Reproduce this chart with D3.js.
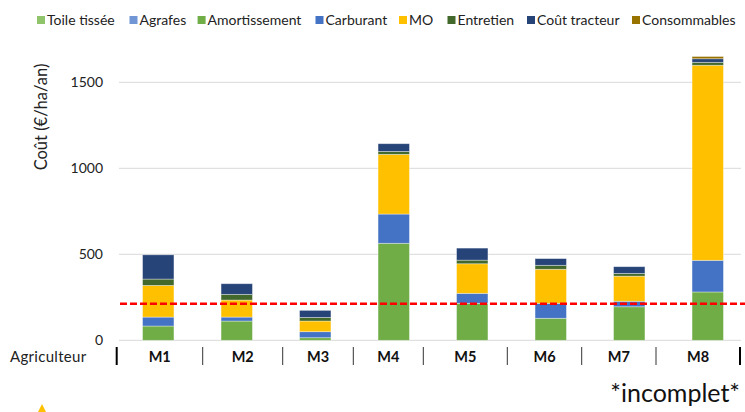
<!DOCTYPE html>
<html><head><meta charset="utf-8">
<script src="https://cdn.jsdelivr.net/npm/d3@7/dist/d3.min.js"></script>
<style>body{margin:0;background:#fff}svg{display:block;font-family:Lato,"Open Sans",sans-serif}</style>
</head><body><svg id="c" width="745" height="412"></svg>
<script>
const categories = ["M1","M2","M3","M4","M5","M6","M7","M8"];
const seriesNames = ["Toile tissée","Agrafes","Amortissement","Carburant","MO","Entretien","Coût tracteur","Consommables"];
const toileTissee   = [0,0,0,0,0,0,0,0];
const agrafes       = [0,0,0,0,0,0,0,0];
const amortissement = [83,112,15,564,215,128,195,281];
const carburant     = [52,23,35,170,58,87,32,184];
const mo            = [184,99,62,347,172,198,146,1134];
const entretien     = [37,33,21,17,21,23,16,17];
const coutTracteur  = [141,62,41,45,70,39,39,21];
const consommables  = [0,0,0,0,0,0,0,13];
const yTicks = [0,500,1000,1500];
const threshold = 212;
const colors = ["#8FC46A","#7196D5","#70AD47","#4472C4","#FFC000","#43682B","#264478","#997300"];

const seriesValues = [toileTissee,agrafes,amortissement,carburant,mo,entretien,coutTracteur,consommables];
const rows = categories.map((c,i)=>{const o={cat:c}; seriesNames.forEach((s,j)=>o[s]=seriesValues[j][i]); return o;});

const svg = d3.select("#c");
const x = d3.scaleBand().domain(categories).range([119,747]).paddingInner(0.6).paddingOuter(0.3);
const y = d3.scaleLinear().domain([0,1650]).range([340.3, 56.5]);
const gridX1 = 119, gridX2 = 741;

// gridlines
svg.append("g").selectAll("line").data(yTicks).join("line")
  .attr("x1",gridX1).attr("x2",gridX2).attr("y1",d=>y(d)).attr("y2",d=>y(d))
  .attr("stroke","#D9D9D9").attr("stroke-width",1);

// y tick labels
svg.append("g").selectAll("text").data(yTicks).join("text")
  .attr("x",103).attr("y",d=>y(d)).attr("dy","0.35em").attr("text-anchor","end")
  .attr("font-size",14).attr("fill","#222").text(d=>d);

// y title
svg.append("text").attr("transform","translate(47,117) rotate(-90)")
  .attr("text-anchor","middle").attr("font-size",16.5).attr("fill","#222").text("Coût (€/ha/an)");

// stacks
const stack = d3.stack().keys(seriesNames)(rows);
svg.append("g").selectAll("g").data(stack).join("g").attr("fill",(d,i)=>colors[i])
  .selectAll("rect").data(d=>d.filter(p=>p[1]-p[0]>0)).join("rect")
  .attr("x",d=>x(d.data.cat)).attr("width",x.bandwidth())
  .attr("y",d=>y(d[1])).attr("height",d=>y(d[0])-y(d[1]))
  .attr("stroke","#ffffff").attr("stroke-opacity",0.45).attr("stroke-width",0.8);

// threshold line
svg.append("line").attr("x1",120).attr("x2",745).attr("y1",y(threshold)).attr("y2",y(threshold))
  .attr("stroke","#FF0000").attr("stroke-width",2.5).attr("stroke-dasharray","7,3");

// category axis (table-like)
const tickXs = [116.7,202.7,282.7,353.3,423.3,507.3,581.7,656,740];
svg.append("g").selectAll("line").data(tickXs).join("line")
  .attr("x1",d=>d).attr("x2",d=>d).attr("y1",347).attr("y2",365)
  .attr("stroke",(d,i)=>(i===0||i===tickXs.length-1)?"#000":"#333")
  .attr("stroke-width",(d,i)=>(i===0||i===tickXs.length-1)?2:1);
svg.append("g").selectAll("text").data(categories).join("text")
  .attr("x",(d,i)=>(tickXs[i]+tickXs[i+1])/2).attr("y",357).attr("dy","0.35em")
  .attr("text-anchor","middle").attr("font-size",14.5).attr("font-weight","bold").attr("fill","#111").text(d=>d);
svg.append("text").attr("x",10).attr("y",357).attr("dy","0.35em").attr("font-size",15)
  .attr("letter-spacing",0.3).attr("fill","#222").text("Agriculteur");

// legend
const legendX = [37,129.5,197.6,315.5,399,447.5,527,632];
const lg = svg.append("g").selectAll("g").data(seriesNames).join("g")
  .attr("transform",(d,i)=>`translate(${legendX[i]},20)`);
lg.append("rect").attr("x",0).attr("y",-4).attr("width",8).attr("height",8).attr("fill",(d,i)=>colors[i]);
lg.append("text").attr("x",10).attr("y",0).attr("dy","0.35em").attr("font-size",14).attr("fill","#222").text(d=>d);

// footnote
svg.append("text").attr("x",740).attr("y",402).attr("text-anchor","end").attr("font-size",25)
  .attr("fill","#111").text("*incomplet*");
// partial icon at bottom left
svg.append("path").attr("d","M42,404 L46,412 L38,412 Z").attr("fill","#FFC000");
</script></body></html>
